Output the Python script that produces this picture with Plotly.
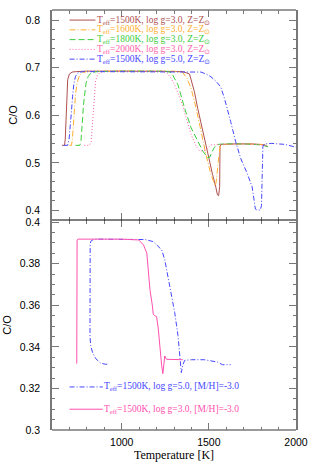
import plotly.graph_objects as go
from plotly.subplots import make_subplots

# ---------------- data (top panel: solar metallicity) ----------------
T_1500_g3 = [657, 672, 676, 680, 684, 690, 700, 715, 740, 800, 1000, 1200, 1350, 1389, 1417, 1436, 1465, 1493, 1521, 1540, 1549, 1556, 1562, 1564, 1570, 1650, 1750, 1820, 1840]
CO_1500_g3 = [0.537, 0.537, 0.550, 0.600, 0.640, 0.675, 0.687, 0.691, 0.692, 0.693, 0.693, 0.693, 0.692, 0.687, 0.650, 0.615, 0.567, 0.518, 0.476, 0.449, 0.433, 0.431, 0.450, 0.535, 0.539, 0.540, 0.540, 0.538, 0.534]

T_1600_g3 = [700, 712, 717, 722, 728, 735, 745, 758, 775, 800, 1000, 1300, 1351, 1375, 1398, 1427, 1455, 1483, 1512, 1530, 1536, 1542, 1549, 1559, 1566, 1580, 1700, 1800, 1835]
CO_1600_g3 = [0.537, 0.537, 0.550, 0.580, 0.615, 0.645, 0.670, 0.684, 0.690, 0.692, 0.693, 0.693, 0.690, 0.677, 0.657, 0.615, 0.567, 0.518, 0.476, 0.455, 0.452, 0.460, 0.490, 0.520, 0.537, 0.539, 0.540, 0.539, 0.535]

T_1800_g3 = [735, 760, 766, 771, 776, 780, 786, 795, 808, 825, 860, 1000, 1250, 1285, 1323, 1361, 1398, 1436, 1465, 1493, 1505, 1515, 1530, 1550, 1600, 1700, 1800, 1840]
CO_1800_g3 = [0.537, 0.537, 0.545, 0.565, 0.595, 0.620, 0.645, 0.667, 0.682, 0.690, 0.692, 0.693, 0.693, 0.690, 0.664, 0.615, 0.574, 0.546, 0.525, 0.511, 0.512, 0.520, 0.532, 0.539, 0.540, 0.540, 0.538, 0.534]

T_2000_g3 = [785, 815, 825, 830, 834, 838, 843, 850, 860, 875, 900, 1000, 1230, 1257, 1280, 1304, 1342, 1370, 1398, 1427, 1445, 1465, 1480, 1495, 1512, 1600, 1700, 1800, 1835]
CO_2000_g3 = [0.537, 0.537, 0.545, 0.570, 0.600, 0.630, 0.655, 0.672, 0.684, 0.690, 0.692, 0.693, 0.693, 0.690, 0.680, 0.664, 0.629, 0.594, 0.560, 0.535, 0.526, 0.525, 0.526, 0.532, 0.538, 0.539, 0.540, 0.538, 0.535]

T_1500_g5 = [668, 690, 698, 705, 712, 718, 725, 735, 750, 780, 1000, 1300, 1455, 1490, 1512, 1540, 1568, 1590, 1606, 1625, 1653, 1682, 1720, 1748, 1757, 1767, 1776, 1795, 1802, 1806, 1810, 1820, 1861, 1936, 2000]
CO_1500_g5 = [0.537, 0.537, 0.550, 0.575, 0.610, 0.640, 0.665, 0.682, 0.690, 0.692, 0.692, 0.692, 0.691, 0.686, 0.681, 0.672, 0.660, 0.635, 0.615, 0.587, 0.546, 0.510, 0.478, 0.450, 0.428, 0.403, 0.401, 0.401, 0.410, 0.470, 0.535, 0.540, 0.541, 0.539, 0.533]

# ---------------- data (bottom panel: [M/H] = -3.0) ----------------
T_1500_g3_m3 = [742, 742, 744, 750, 800, 1000, 1097, 1125, 1144, 1153, 1162, 1176, 1181, 1190, 1200, 1210, 1219, 1229, 1236, 1240, 1244, 1247, 1257, 1300, 1351]
CO_1500_g3_m3 = [0.3319, 0.3900, 0.3914, 0.3918, 0.3918, 0.3918, 0.3914, 0.3890, 0.3851, 0.3771, 0.3676, 0.3597, 0.3557, 0.3549, 0.3546, 0.3486, 0.3390, 0.3311, 0.3271, 0.3300, 0.3345, 0.3356, 0.3340, 0.3338, 0.3338]

T_1500_g5_m3 = [917, 907, 879, 851, 832, 822, 818, 817, 817, 819, 823, 835, 851, 900, 1000, 1134, 1181, 1229, 1247, 1266, 1285, 1304, 1323, 1332, 1338, 1342, 1351, 1361, 1400, 1474, 1549, 1578, 1625]
CO_1500_g5_m3 = [0.3317, 0.3316, 0.3322, 0.3343, 0.3375, 0.3405, 0.3450, 0.3600, 0.3850, 0.3895, 0.3908, 0.3915, 0.3918, 0.3918, 0.3918, 0.3916, 0.3906, 0.3867, 0.3819, 0.3740, 0.3660, 0.3565, 0.3454, 0.3359, 0.3280, 0.3276, 0.3313, 0.3335, 0.3338, 0.3338, 0.3327, 0.3314, 0.3314]

top_labels = [
    "T<sub>eff</sub>=1500K, log g=3.0, Z=Z<sub>⊙</sub>",
    "T<sub>eff</sub>=1600K, log g=3.0, Z=Z<sub>⊙</sub>",
    "T<sub>eff</sub>=1800K, log g=3.0, Z=Z<sub>⊙</sub>",
    "T<sub>eff</sub>=2000K, log g=3.0, Z=Z<sub>⊙</sub>",
    "T<sub>eff</sub>=1500K, log g=5.0, Z=Z<sub>⊙</sub>",
]
bottom_labels = [
    "T<sub>eff</sub>=1500K, log g=5.0, [M/H]=-3.0",
    "T<sub>eff</sub>=1500K, log g=3.0, [M/H]=-3.0",
]
x_title = "Temperature [K]"
y_title = "C/O"

# ---------------- styles ----------------
C_BROWN = "rgb(175,80,80)"
C_ORANGE = "rgb(255,175,50)"
C_GREEN = "rgb(60,205,60)"
C_PINK = "rgb(255,100,170)"
C_BLUE = "rgb(70,70,255)"
C_MAGENTA = "rgb(255,80,175)"

D_SOLID = "solid"
D_DASHDOT = "6px,2px,1px,2px"
D_DASH = "6px,3px"
D_DOT = "1px,2px"
D_DASHDOT2 = "5px,2px,1px,2px"

FRAME = "rgb(120,120,120)"

top_series = [
    (T_1500_g3, CO_1500_g3, C_BROWN, D_SOLID),
    (T_1600_g3, CO_1600_g3, C_ORANGE, D_DASHDOT),
    (T_1800_g3, CO_1800_g3, C_GREEN, D_DASH),
    (T_2000_g3, CO_2000_g3, C_PINK, D_DOT),
    (T_1500_g5, CO_1500_g5, C_BLUE, D_DASHDOT2),
]
bottom_series = [
    (T_1500_g5_m3, CO_1500_g5_m3, C_BLUE, D_DASHDOT2),
    (T_1500_g3_m3, CO_1500_g3_m3, C_MAGENTA, D_SOLID),
]

fig = make_subplots(rows=2, cols=1, shared_xaxes=True, vertical_spacing=0)

for (t, c, col, dash) in top_series:
    fig.add_trace(go.Scatter(x=t, y=c, mode="lines", line=dict(color=col, width=1, dash=dash),
                             showlegend=False, hoverinfo="skip"), row=1, col=1)
for (t, c, col, dash) in bottom_series:
    fig.add_trace(go.Scatter(x=t, y=c, mode="lines", line=dict(color=col, width=1, dash=dash),
                             showlegend=False, hoverinfo="skip"), row=2, col=1)

# legend-like labels, top panel
for i, ((t, c, col, dash), lab) in enumerate(zip(top_series, top_labels)):
    yy = 0.952 - i * 0.0465
    fig.add_shape(type="line", xref="x domain", yref="y domain", x0=0.072, x1=0.178, y0=yy, y1=yy,
                  line=dict(color=col, width=1, dash=dash))
    fig.add_annotation(xref="x domain", yref="y domain", x=0.176, y=yy, text=lab, showarrow=False,
                       xanchor="left", yanchor="middle",
                       font=dict(family="Liberation Serif", size=9.5, color=col))

# legend-like labels, bottom panel
for i, ((t, c, col, dash), lab) in enumerate(zip(bottom_series, bottom_labels)):
    yy = 0.205 - i * 0.106
    fig.add_shape(type="line", xref="x2 domain", yref="y2 domain", x0=0.072, x1=0.208, y0=yy, y1=yy,
                  line=dict(color=col, width=1, dash=dash))
    fig.add_annotation(xref="x2 domain", yref="y2 domain", x=0.206, y=yy, text=lab, showarrow=False,
                       xanchor="left", yanchor="middle",
                       font=dict(family="Liberation Serif", size=9.5, color=col))

axis_common = dict(mirror="ticks", ticks="inside", tickcolor=FRAME, showgrid=False, zeroline=False,
                   tickfont=dict(family="Liberation Sans", size=10.5, color="black"))

fig.update_xaxes(range=[600, 2000], tick0=1000, dtick=500, ticklen=7, tickwidth=1.2,
                 showline=False,
                 minor=dict(dtick=100, ticklen=3.5, ticks="inside", tickcolor=FRAME),
                 **axis_common)
fig.update_xaxes(showticklabels=False, row=1, col=1)
fig.update_xaxes(showticklabels=True, ticklabelstandoff=4,
                 title=dict(text=x_title, font=dict(family="Liberation Serif", size=12, color="black"), standoff=4),
                 row=2, col=1)

fig.update_yaxes(range=[0.38, 0.8215], tick0=0, dtick=0.1, ticklen=7, tickwidth=1.2,
                 showline=True, linecolor=FRAME, linewidth=1.6,
                 minor=dict(dtick=0.02, ticklen=3.5, ticks="inside", tickcolor=FRAME),
                 ticklabelstandoff=8,
                 title=dict(text=y_title, font=dict(family="Liberation Sans", size=11, color="black"), standoff=6),
                 row=1, col=1, **axis_common)
fig.update_yaxes(range=[0.3, 0.401], tick0=0, dtick=0.02, ticklen=7, tickwidth=1.2,
                 showline=True, linecolor=FRAME, linewidth=1.6,
                 minor=dict(dtick=0.005, ticklen=3.5, ticks="inside", tickcolor=FRAME),
                 ticklabelstandoff=8,
                 title=dict(text=y_title, font=dict(family="Liberation Sans", size=11, color="black"), standoff=6),
                 row=2, col=1, **axis_common)

# frame: gray top and bottom edges, black divider between panels
for yy, colr, w in [(1.0, FRAME, 1.6), (0.0, FRAME, 1.6), (0.5, "black", 1.0)]:
    fig.add_shape(type="line", xref="paper", yref="paper", x0=0, x1=1, y0=yy, y1=yy,
                  line=dict(color=colr, width=w), layer="above")

fig.update_layout(width=314, height=467, margin=dict(l=49, r=17, t=6, b=37),
                  paper_bgcolor="white", plot_bgcolor="white", showlegend=False)

fig.write_html("out.html", config={"displayModeBar": False},
               post_script="document.body.style.margin='0px';document.body.style.overflow='hidden';")
